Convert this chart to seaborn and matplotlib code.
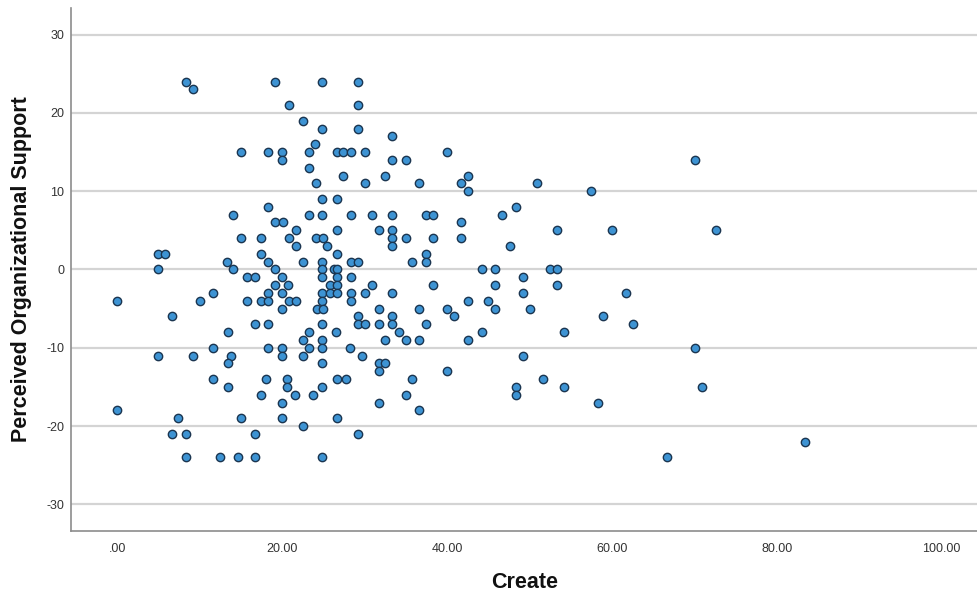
import matplotlib
matplotlib.use("Agg")
import matplotlib.pyplot as plt
import seaborn as sns
import pandas as pd

# Create score for each respondent
create = [
    8.4, 9.2, 19.2, 24.9, 29.2, 20.8, 29.2, 22.5, 24.9, 29.2,
    33.3, 24.0, 15.0, 18.3, 20.0, 23.3, 26.6, 27.4, 28.3, 30.1,
    40.0, 20.0, 33.3, 35.0, 70.1, 23.3, 27.4, 32.5, 42.5, 24.1,
    30.1, 36.6, 41.7, 50.9, 42.5, 57.5, 24.9, 26.6, 18.3, 48.4,
    14.1, 23.3, 24.9, 28.3, 30.9, 33.3, 37.5, 38.3, 46.7, 19.2,
    20.1, 41.7, 21.7, 26.6, 31.7, 33.3, 53.4, 60.0, 72.6, 15.0,
    17.5, 20.8, 24.1, 25.0, 33.3, 35.0, 38.3, 41.7, 21.7, 25.4,
    33.3, 47.6, 5.0, 5.8, 17.5, 26.6, 37.5, 13.3, 18.3, 22.5,
    24.9, 28.3, 29.2, 35.8, 37.5, 5.0, 14.1, 19.2, 24.9, 26.3,
    26.7, 44.2, 45.8, 52.5, 53.4, 15.8, 16.7, 20.0, 24.9, 26.7,
    28.3, 49.2, 19.2, 20.7, 25.8, 26.7, 30.9, 38.3, 45.8, 53.4,
    11.6, 18.3, 20.0, 24.9, 25.8, 26.7, 28.3, 30.1, 33.3, 49.2,
    61.7, 0.0, 10.0, 15.8, 17.4, 18.3, 20.8, 21.7, 24.9, 28.3,
    42.5, 45.0, 20.0, 24.2, 25.0, 31.7, 36.6, 40.0, 45.8, 50.1,
    6.6, 29.2, 33.3, 40.8, 58.9, 16.7, 18.3, 24.9, 29.2, 30.1,
    31.7, 33.3, 37.5, 62.5, 13.4, 23.3, 26.5, 34.2, 44.2, 54.2,
    22.5, 24.9, 32.5, 35.0, 36.6, 42.5, 11.6, 18.3, 20.0, 23.3,
    24.9, 28.2, 70.1, 5.0, 9.2, 13.8, 20.0, 22.5, 29.7, 49.2,
    13.4, 24.9, 31.7, 32.5, 31.7, 40.0, 11.6, 18.1, 20.6, 26.6,
    27.8, 35.8, 51.7, 13.4, 20.6, 24.9, 48.4, 54.2, 70.9, 17.5,
    21.6, 23.7, 35.0, 48.4, 20.0, 31.7, 58.3, 0.0, 36.6, 7.4,
    15.0, 20.0, 26.7, 22.5, 6.6, 8.4, 16.7, 29.2, 83.4, 8.4,
    12.5, 14.7, 16.7, 24.9, 66.7,
]

# Perceived Organizational Support score for each respondent
support = [
    24, 23, 24, 24, 24, 21, 21, 19, 18, 18,
    17, 16, 15, 15, 15, 15, 15, 15, 15, 15,
    15, 14, 14, 14, 14, 13, 12, 12, 12, 11,
    11, 11, 11, 11, 10, 10, 9, 9, 8, 8,
    7, 7, 7, 7, 7, 7, 7, 7, 7, 6,
    6, 6, 5, 5, 5, 5, 5, 5, 5, 4,
    4, 4, 4, 4, 4, 4, 4, 4, 3, 3,
    3, 3, 2, 2, 2, 2, 2, 1, 1, 1,
    1, 1, 1, 1, 1, 0, 0, 0, 0, 0,
    0, 0, 0, 0, 0, -1, -1, -1, -1, -1,
    -1, -1, -2, -2, -2, -2, -2, -2, -2, -2,
    -3, -3, -3, -3, -3, -3, -3, -3, -3, -3,
    -3, -4, -4, -4, -4, -4, -4, -4, -4, -4,
    -4, -4, -5, -5, -5, -5, -5, -5, -5, -5,
    -6, -6, -6, -6, -6, -7, -7, -7, -7, -7,
    -7, -7, -7, -7, -8, -8, -8, -8, -8, -8,
    -9, -9, -9, -9, -9, -9, -10, -10, -10, -10,
    -10, -10, -10, -11, -11, -11, -11, -11, -11, -11,
    -12, -12, -12, -12, -13, -13, -14, -14, -14, -14,
    -14, -14, -14, -15, -15, -15, -15, -15, -15, -16,
    -16, -16, -16, -16, -17, -17, -17, -18, -18, -19,
    -19, -19, -19, -20, -21, -21, -21, -21, -22, -24,
    -24, -24, -24, -24, -24,
]

x_ticks = [0, 20, 40, 60, 80, 100]
x_tick_labels = [".00", "20.00", "40.00", "60.00", "80.00", "100.00"]
y_ticks = [-30, -20, -10, 0, 10, 20, 30]

df = pd.DataFrame({"Create": create, "Perceived Organizational Support": support})

sns.set_style("white")
plt.rcParams["font.family"] = ["Liberation Sans", "DejaVu Sans"]
plt.rcParams["axes.unicode_minus"] = False

fig = plt.figure(figsize=(9.78, 5.93), dpi=100)
ax = fig.add_axes([0.0726, 0.1046, 0.9274, 0.882])

ax.set_axisbelow(True)
for yt in y_ticks:
    ax.axhline(yt, color="#d4d4d4", lw=1.6, zorder=0)

sns.scatterplot(
    data=df, x="Create", y="Perceived Organizational Support", ax=ax,
    s=36, color="#3d93d3", edgecolor="#1b3550", linewidth=1.0, zorder=3,
)

ax.set_xlim(-5.6, 104.4)
ax.set_ylim(-33.4, 33.4)
ax.set_xticks(x_ticks)
ax.set_xticklabels(x_tick_labels)
ax.set_yticks(y_ticks)
ax.tick_params(axis="both", length=0, labelsize=9, labelcolor="#333333")
ax.tick_params(axis="x", pad=9)
ax.tick_params(axis="y", pad=5)

for side in ("top", "right"):
    ax.spines[side].set_visible(False)
for side in ("left", "bottom"):
    ax.spines[side].set_color("#8c8c8c")
    ax.spines[side].set_linewidth(1.2)

ax.set_xlabel("Create", fontsize=15.5, fontweight="bold", labelpad=12, color="#111111")
ax.set_ylabel("Perceived Organizational Support", fontsize=15.5, fontweight="bold",
              labelpad=10, color="#111111")

fig.savefig("out.png", dpi=100)
